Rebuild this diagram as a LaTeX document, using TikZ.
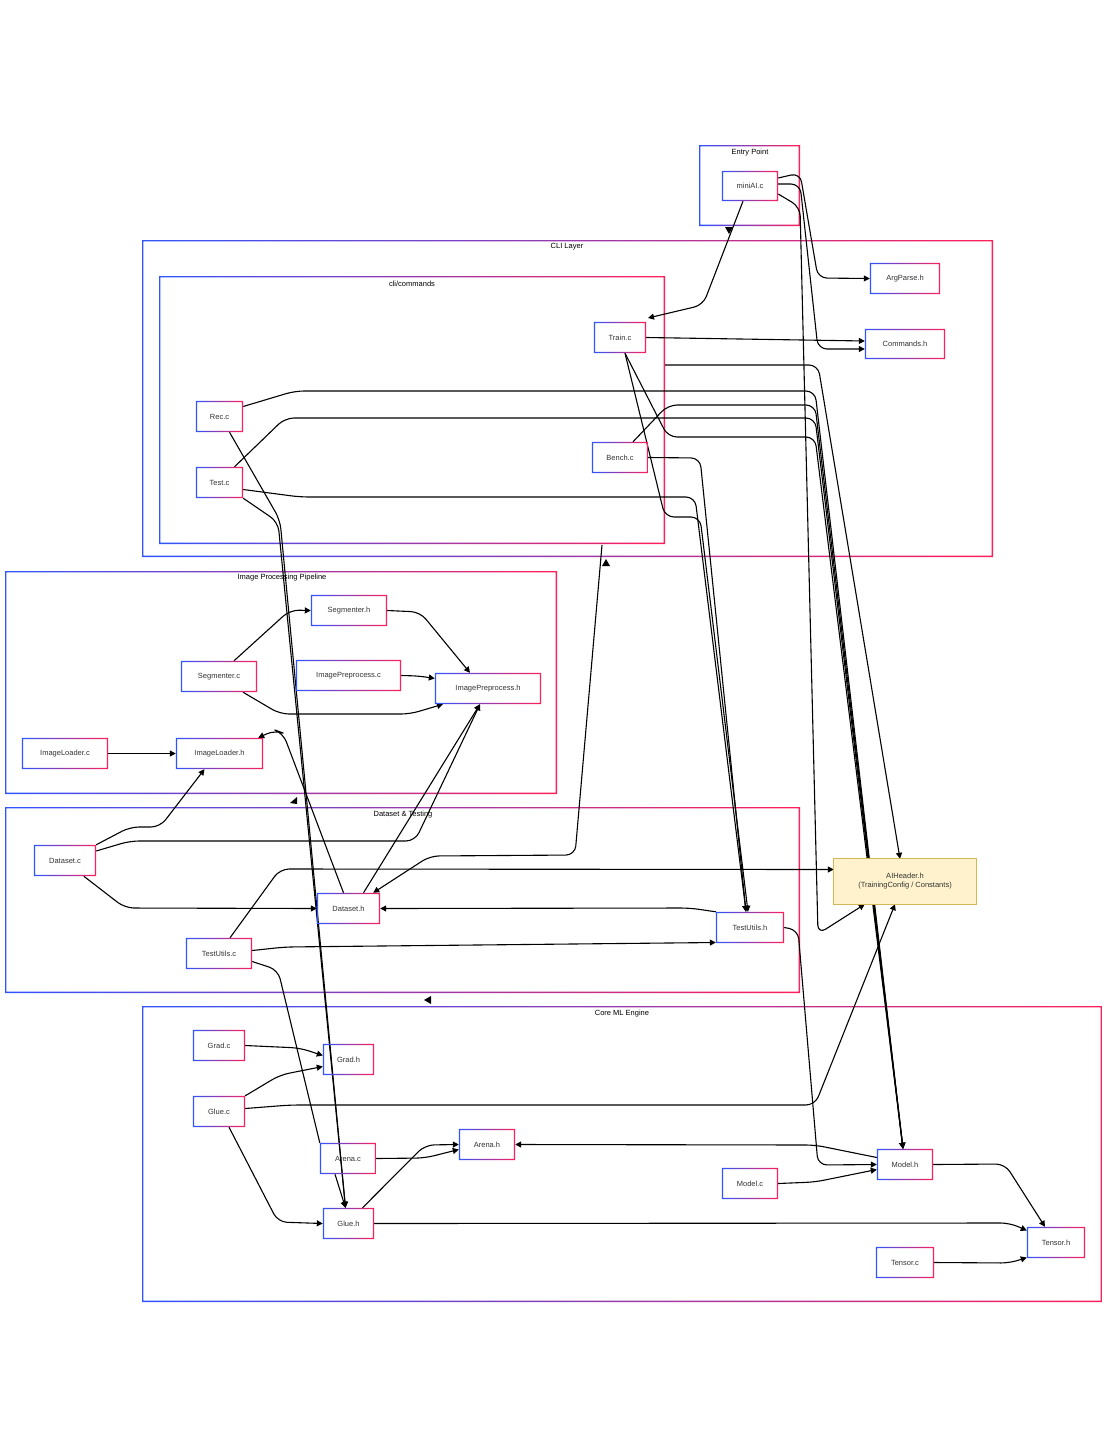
\documentclass[tikz,border=0pt]{standalone}
\usepackage{fontspec}
\setmainfont{Liberation Sans}
\usetikzlibrary{arrows.meta}
\definecolor{cb}{HTML}{2F55FF}
\definecolor{cr}{HTML}{FF1F5A}
\definecolor{tx}{HTML}{333333}
\begin{document}
\begin{tikzpicture}[x=1pt,y=-1pt,
  mod/.style={draw=none,fill=white,font=\fontsize{7.5}{9}\selectfont,text=tx,minimum height=31pt,inner sep=0pt},
  clab/.style={font=\fontsize{7.5}{9}\selectfont,text=black,inner sep=0pt},
  e/.style={draw=black,line width=1.1pt,rounded corners=9pt,-{Triangle[length=6pt,width=6pt]}},
  en/.style={draw=black,line width=1.1pt,rounded corners=9pt}]
\useasboundingbox (0,0) rectangle (1108,1448);
\newcommand{\gcont}[4]{\shade[left color=cb,right color=cr,even odd rule] (#1,#2) rectangle (#3,#4) (#1+1.3,#2+1.3) rectangle (#3-1.3,#4-1.3);}
% containers
\gcont{699}{145}{800}{226}
\gcont{142}{240}{993}{557}
\gcont{159}{276}{665}{544}
\gcont{5}{571}{557}{794}
\gcont{5}{807}{800}{993}
\gcont{142}{1006}{1102}{1302}
\node[clab] (lEntry) at (750,153) {Entry Point};
\node[clab] (lCLI) at (567,247) {CLI Layer};
\node[clab] (lCmd) at (412,284) {cli/commands};
\node[clab] (lImg) at (282,578) {Image Processing Pipeline};
\node[clab] (lDs) at (403,815) {Dataset \& Testing};
\node[clab] (lCore) at (622,1014) {Core ML Engine};
% nodes
\node[mod,minimum width=56pt,minimum height=30pt] (miniAI) at (750,186) {miniAI.c};
\node[mod,minimum width=70pt] (ArgParse) at (905,278.5) {ArgParse.h};
\node[mod,minimum width=80pt,minimum height=30pt] (Commands) at (905,344) {Commands.h};
\node[mod,minimum width=52pt] (Train) at (620,337.5) {Train.c};
\node[mod,minimum width=47pt] (Rec) at (219.5,416.5) {Rec.c};
\node[mod,minimum width=56pt] (Bench) at (620,457.5) {Bench.c};
\node[mod,minimum width=47pt] (Test) at (219.5,482.5) {Test.c};
\node[mod,minimum width=76pt] (Segh) at (349,610.5) {Segmenter.h};
\node[mod,minimum width=76pt] (Segc) at (219,676.5) {Segmenter.c};
\node[mod,minimum width=105pt] (IPc) at (348.5,675.5) {ImagePreprocess.c};
\node[mod,minimum width=106pt] (IPh) at (488,688.5) {ImagePreprocess.h};
\node[mod,minimum width=86pt] (ILc) at (65,753.5) {ImageLoader.c};
\node[mod,minimum width=87pt] (ILh) at (219.5,753.5) {ImageLoader.h};
\node[mod,minimum width=62pt] (Dsc) at (65,860.5) {Dataset.c};
\node[mod,minimum width=63pt] (Dsh) at (348.5,908.5) {Dataset.h};
\node[mod,minimum width=68pt] (TUh) at (750,927.5) {TestUtils.h};
\node[mod,minimum width=66pt] (TUc) at (219,953.5) {TestUtils.c};
\node[draw=none,fill=none,minimum width=52pt,minimum height=31pt,font=\fontsize{7.5}{9}\selectfont,text=tx,inner sep=0pt] (Gradc) at (219,1045.5) {Grad.c};
\node[mod,minimum width=51pt] (Gradh) at (348.5,1059.5) {Grad.h};
\node[mod,minimum width=52pt] (Gluec) at (219,1111.5) {Glue.c};
\node[mod,minimum width=56pt] (Arenac) at (348,1158.5) {Arena.c};
\node[mod,minimum width=56pt] (Arenah) at (487,1144.5) {Arena.h};
\node[mod,minimum width=56pt] (Modelh) at (905,1164.5) {Model.h};
\node[mod,minimum width=56pt] (Modelc) at (750,1183.5) {Model.c};
\node[mod,minimum width=51pt] (Glueh) at (348.5,1223.5) {Glue.h};
\node[mod,minimum width=58pt] (Tensorh) at (1056,1242.5) {Tensor.h};
\node[mod,minimum width=58pt] (Tensorc) at (905,1262.5) {Tensor.c};
\node[draw=none,fill=white,minimum width=142pt,minimum height=45pt,align=center,font=\fontsize{7.5}{9}\selectfont,text=tx,inner sep=0pt] (AI) at (905,881.5) {AIHeader.h\\(TrainingConfig / Constants)};
\coordinate (cliR) at (665,365);
\coordinate (cliB) at (602,545);
% edges
\begin{scope}
\path[e] ([xshift=-7pt]miniAI.south) -- (703,305) -- (648,318);
\path[e] ([yshift=8pt]miniAI.east) -- (800,173) -- (818,278) -- (ArgParse.west);
\path[e] ([yshift=2pt]miniAI.east) -- (800,184) -- (818,349) -- ([yshift=-5pt]Commands.west);
\path[e] ([yshift=-8pt]miniAI.east) -- (800,207) -- (818,934) -- ([xshift=31pt]AI.south west);
\path[e] (Train.east) -- ([yshift=3pt]Commands.west);
\path[e] (cliR) -- (818,365) -- ([xshift=-5pt]AI.north);
\path[e] ([yshift=10pt]Rec.east) -- (295,391) -- (815,391) -- ([xshift=-2pt]Modelh.north);
\path[e] ([xshift=15pt]Test.north) -- (285,418) -- (815,418) -- ([xshift=-2pt]Modelh.north);
\path[e] ([xshift=13pt]Bench.north) -- (668,405) -- (815,405) -- ([xshift=-2pt]Modelh.north);
\path[e] ([xshift=5pt]Train.south) -- (668,437) -- (815,437) -- ([xshift=-2pt]Modelh.north);
\path[e] ([xshift=5pt]Train.south) -- (665,517) -- (700,517) -- ([xshift=-2pt]TUh.north);
\path[e] (Bench.east) -- (700,458) -- ([xshift=-4pt]TUh.north);
\path[e] ([yshift=-7pt]Test.east) -- (300,497) -- (695,497) -- ([xshift=-4pt]TUh.north);
\path[e] ([xshift=10pt]Rec.south) -- (280,520) -- ([xshift=-3pt]Glueh.north);
\path[e] (Test.south east) -- (278,522) -- ([xshift=-3pt]Glueh.north);
\path[e] ([xshift=15pt]Segc.north) -- (290,610) -- (Segh.west);
\path[e] (Segh.east) -- (420,612) -- ([xshift=-18pt]IPh.north);
\path[e] (IPc.east) -- (420,676) -- ([yshift=10pt]IPh.west);
\path[e] ([xshift=24pt]Segc.south) -- (280,714) -- (410,714) -- ([xshift=-45pt]IPh.south);
\path[e] (ILc.east) -- (ILh.west);
\path[e] (Dsc.north east) -- (130,827) -- (160,827) -- ([xshift=-15pt]ILh.south);
\path[e] ([xshift=-5pt]Dsh.north) -- (283,733) -- (275,730) -- ([xshift=-5pt]ILh.north east);
\path[e] ([yshift=9.5pt]Dsc.east) -- (130,841) -- (415,841) -- ([xshift=-8pt]IPh.south);
\path[e] ([xshift=15pt]Dsh.north) -- ([xshift=-8pt]IPh.south);
\path[e] ([xshift=50pt]Dsc.south west) -- (125,908) -- (Dsh.west);
\path[e] (TUh.north west) -- (690,908) -- (Dsh.east);
\path[e] ([yshift=3pt]TUc.east) -- (285,947) -- ([yshift=-15pt]TUh.west);
\path[e] ([xshift=11pt]TUc.north) -- (280,869) -- ([yshift=12pt]AI.west);
\path[e] (cliB) -- (575,855) -- (430,856) -- ([xshift=-7pt]Dsh.north east);
\path[en] ([yshift=-8pt]TUc.east) -- (278,970) -- (Arenac.north west);
\path[e] ([xshift=-13pt]Arenac.south) -- ([xshift=-3pt]Glueh.north);
\path[e] (TUh.east) -- (798,930) -- (818,1165) -- (Modelh.west);
\path[e] (Gradc.east) -- (300,1048) -- ([yshift=4pt]Gradh.west);
\path[e] (Gluec.north east) -- (280,1075) -- ([yshift=-7pt]Gradh.west);
\path[e] ([yshift=3pt]Gluec.east) -- (290,1105) -- (815,1105) -- ([xshift=-10pt]AI.south);
\path[e] ([xshift=10pt]Gluec.south) -- (278,1222) -- (Glueh.west);
\path[e] (Arenac.east) -- (425,1158) -- ([yshift=-5pt]Arenah.west);
\path[e] ([xshift=14pt]Glueh.north) -- (425,1145) -- (Arenah.west);
\path[e] ([yshift=7pt]Modelh.west) -- (815,1145) -- (Arenah.east);
\path[e] (Modelc.east) -- (815,1182) -- ([yshift=-5pt]Modelh.west);
\path[e] (Modelh.east) -- (1005,1164) -- ([xshift=-11pt]Tensorh.north);
\path[e] (Glueh.east) -- (1010,1223) -- ([yshift=12pt]Tensorh.west);
\path[e] (Tensorc.east) -- (1010,1263) -- ([yshift=-15pt]Tensorh.west);
\end{scope}
% stray arrowheads
\fill (725,227) -- (733,227) -- (729,234) -- cycle;
\fill (602,566) -- (610,566) -- (606,559) -- cycle;
\fill (290,803) -- (297,797) -- (297,804) -- cycle;
\fill (424,1000) -- (431,996) -- (431,1004) -- cycle;
% gradient frames for modules
\foreach \n in {miniAI,ArgParse,Commands,Train,Rec,Bench,Test,Segh,Segc,IPc,IPh,ILc,ILh,Dsc,Dsh,TUh,TUc,Gradc,Gradh,Gluec,Arenac,Arenah,Modelh,Modelc,Glueh,Tensorh,Tensorc}{
  \shade[left color=cb,right color=cr,even odd rule] (\n.south west) rectangle (\n.north east) ([xshift=1.3pt,yshift=1.3pt]\n.south west) rectangle ([xshift=-1.3pt,yshift=-1.3pt]\n.north east);
}
\draw[draw={rgb,255:red,214;green,182;blue,86},fill={rgb,255:red,255;green,242;blue,204},line width=1.2pt] (AI.south west) rectangle (AI.north east);
\node[align=center,font=\fontsize{7.5}{9}\selectfont,text=tx,inner sep=0pt] (AItext) at (AI.center) {AIHeader.h\\(TrainingConfig / Constants)};
\end{tikzpicture}
\end{document}
